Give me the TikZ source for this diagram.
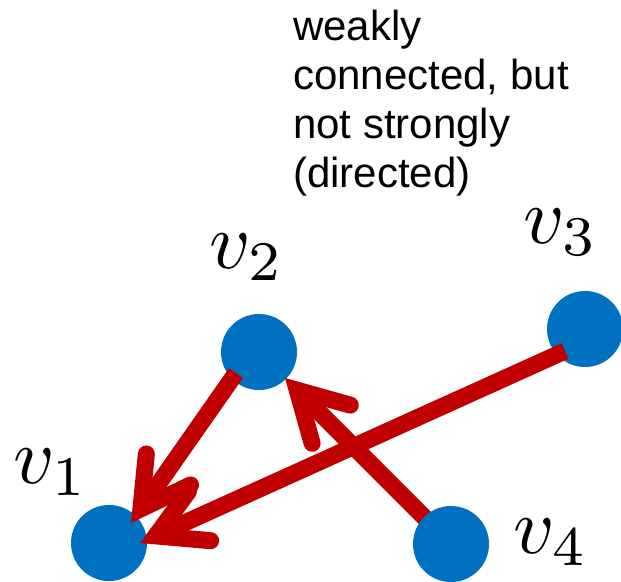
\documentclass[tikz,border=0pt]{standalone}
\usepackage{fontspec}
\newfontfamily\sansf{Liberation Sans}
\usetikzlibrary{arrows.meta}
\definecolor{nodeblue}{HTML}{0070C0}
\definecolor{edgered}{HTML}{C00000}
\begin{document}
\begin{tikzpicture}[x=1pt,y=-1pt,
  vtx/.style={circle,fill=nodeblue,minimum size=76pt,inner sep=0pt},
  edge/.style={draw=edgered,line width=17pt,line cap=butt,
    -{Straight Barb[length=48pt,width=54pt,line cap=round,line join=miter]}},
  lab/.style={inner sep=0pt,scale=8}]
\useasboundingbox (0,0) rectangle (621,581);
\node[vtx] (v1) at (109,543) {};
\node[vtx] (v2) at (259,352) {};
\node[vtx] (v3) at (585,329) {};
\draw[edge] ([shift={(-23,21)}]v2.center) -- ([shift={(22,-20)}]v1.center);
\draw[edge] ([shift={(-20,22)}]v3.center) -- ([shift={(31,0)}]v1.center);
\coordinate (c4) at (451,544);
\draw[edge] (c4) -- ([shift={(26,26)}]v2.center);
\node[vtx] (v4) at (c4) {};
\node[lab] (l1) at (51,472) {$v_1$};
\node[lab] (l2) at (247,257) {$v_2$};
\node[lab] (l3) at (561,232) {$v_3$};
\node[lab] (l4) at (551,542) {$v_4$};
\node[anchor=north west,inner sep=0pt,align=left,font=\sansf\fontsize{42}{49}\selectfont] (txt) at (293,9.5) {weakly\\connected, but\\not strongly\\(directed)};
\end{tikzpicture}
\end{document}
